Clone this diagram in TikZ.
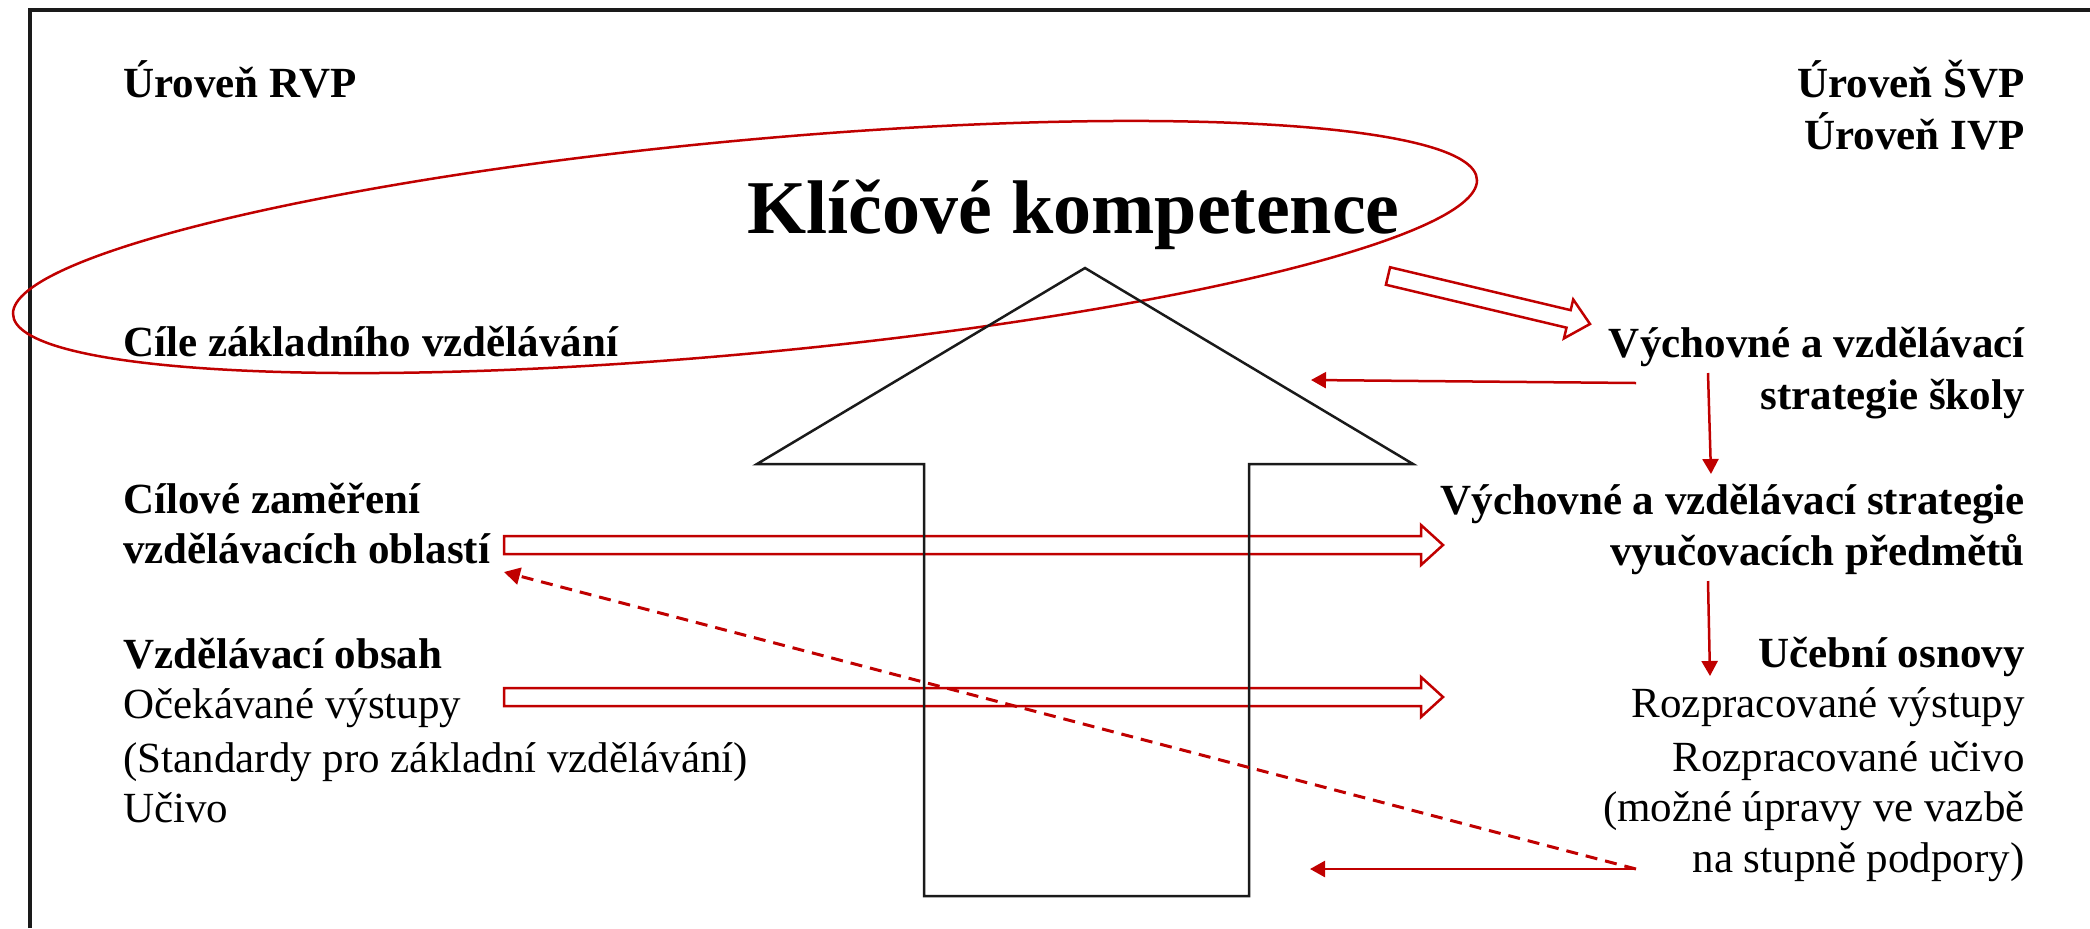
\documentclass[tikz,border=0pt]{standalone}
\usepackage{fontspec}
\setmainfont{Liberation Serif}
\usetikzlibrary{arrows.meta,calc}
\definecolor{rvpred}{HTML}{C00000}
\definecolor{ink}{HTML}{1A1A1A}
\newcommand\hollowarrow[2]{%
  \draw[hollow] let \p1=($(#2)-(#1)$), \n1={atan2(\y1,\x1)}, \n2={veclen(\x1,\y1)} in
    [shift={(#1)}, rotate=\n1]
    (0pt,4.5pt) -- ({\n2-11pt},4.5pt) -- ({\n2-11pt},10pt) -- (\n2,0pt)
    -- ({\n2-11pt},-10pt) -- ({\n2-11pt},-4.5pt) -- (0pt,-4.5pt) -- cycle;}
\begin{document}
\begin{tikzpicture}[x=0.5pt,y=-0.5pt,
  lft/.style={inner sep=0pt, anchor=base west, font=\fontsize{21.5}{25}\selectfont},
  rgt/.style={inner sep=0pt, anchor=base east, font=\fontsize{21.5}{25}\selectfont},
  bold/.style={font=\fontsize{21.5}{25}\selectfont\bfseries},
  frame/.style={draw=ink, line width=1.75pt},
  bigarrow/.style={draw=ink, line width=1.25pt, line join=miter},
  hollow/.style={draw=rvpred, line width=1.25pt, line join=miter},
  thinarrow/.style={draw=rvpred, line width=1.25pt, -{Triangle[length=7.5pt,width=8pt]}},
  dasharrow/.style={draw=rvpred, line width=1.5pt, dash pattern=on 6pt off 4pt, -{Triangle[length=8pt,width=8.5pt]}},
  oval/.style={draw=rvpred, line width=1.25pt}]
\useasboundingbox (0,0) rectangle (2090,928);

% frame
\draw[frame] (30,928) -- (30,10) -- (2090,10);

% left column
\node[lft,bold] (rvp) at (123,97) {Úroveň RVP};
\node[lft,bold] (cile) at (123,356) {Cíle základního vzdělávání};
\node[lft,bold] (cz1) at (123,513) {Cílové zaměření};
\node[lft,bold] (cz2) at (123,563) {vzdělávacích oblastí};
\node[lft,bold] (vo) at (123,668) {Vzdělávací obsah};
\node[lft] (oc) at (123,718) {Očekávané výstupy};
\node[lft] (st) at (123,772) {(Standardy pro základní vzdělávání)};
\node[lft] (uc) at (123,822) {Učivo};

% right column
\node[rgt,bold] (svp) at (2025,97) {Úroveň ŠVP};
\node[rgt,bold] (ivp) at (2025,149) {Úroveň IVP};
\node[rgt,bold] (vs1) at (2025,357) {Výchovné a vzdělávací};
\node[rgt,bold] (vs2) at (2025,409) {strategie školy};
\node[rgt,bold] (vp1) at (2025,514) {Výchovné a vzdělávací strategie};
\node[rgt,bold] (vp2) at (2025,565) {vyučovacích předmětů};
\node[rgt,bold] (uo) at (2025,667) {Učební osnovy};
\node[rgt] (rv) at (2025,717) {Rozpracované výstupy};
\node[rgt] (ru) at (2025,771) {Rozpracované učivo};
\node[rgt] (mu1) at (2025,821) {(možné úpravy ve vazbě};
\node[rgt] (mu2) at (2025,872) {na stupně podpory)};

% title
\node[inner sep=0pt, anchor=base west, font=\fontsize{38}{44}\selectfont\bfseries] (kk) at (747,233) {Klíčové kompetence};

% oval (slanted ellipse)
\draw[oval, shift={(745,247)}, yslant=0.091] (0,0) ellipse [x radius=732, y radius=107];

% hollow red arrows
\coordinate (h1s) at (1388,276);
\coordinate (h1e) at (1590,324);
\coordinate (h2s) at (504,545);
\coordinate (h2e) at (1443,545);
\coordinate (h3s) at (504,697);
\coordinate (h3e) at (1443,697);
\hollowarrow{h1s}{h1e}
\hollowarrow{h2s}{h2e}
\hollowarrow{h3s}{h3e}

% big black arrow
\draw[bigarrow] (1085,268) -- (1413,464) -- (1249,464) -- (1249,896) -- (924,896) -- (924,464) -- (757,464) -- cycle;

% thin red arrows
\coordinate (a1s) at (1636,383);
\coordinate (a1e) at (1311,380);
\coordinate (v1s) at (1708,373);
\coordinate (v1e) at (1711,474);
\coordinate (v2s) at (1708,581);
\coordinate (v2e) at (1710,676);
\coordinate (b1s) at (1636,869);
\coordinate (b1e) at (1310,869);
\coordinate (d1e) at (504,572);
\draw[thinarrow] (a1s) -- (a1e);
\draw[thinarrow] (v1s) -- (v1e);
\draw[thinarrow] (v2s) -- (v2e);
\draw[thinarrow] (b1s) -- (b1e);
\draw[dasharrow] (b1s) -- (d1e);
\end{tikzpicture}
\end{document}
